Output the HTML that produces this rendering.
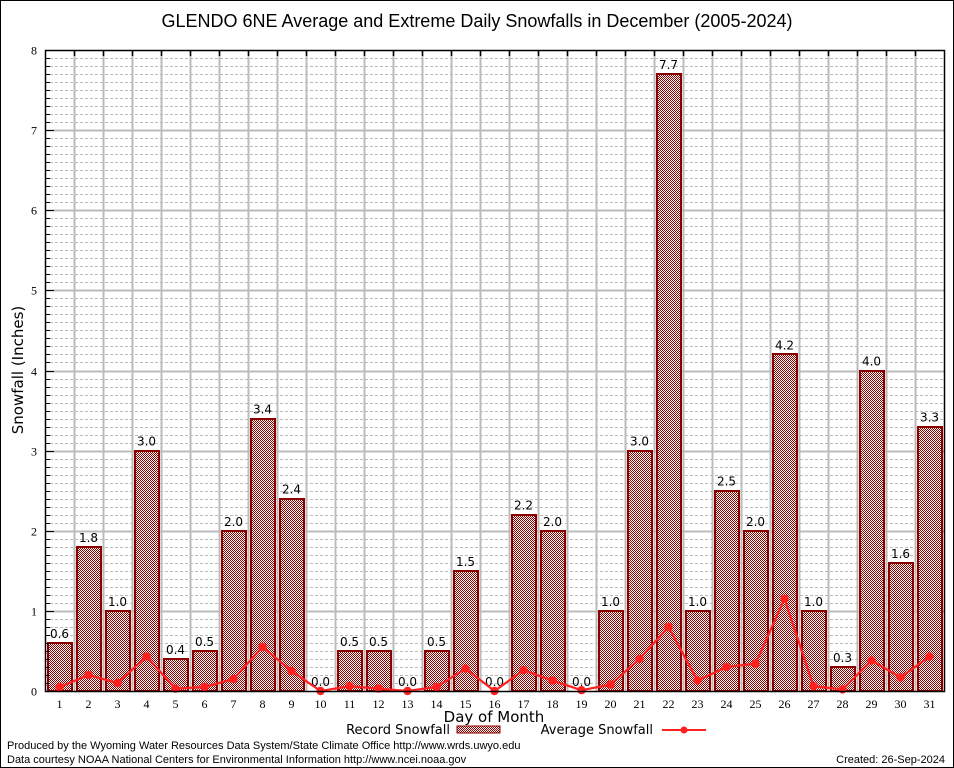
<!DOCTYPE html>
<html><head><meta charset="utf-8"><style>
body{margin:0;background:#fff}
svg{display:block}
text{font-family:"Liberation Sans",sans-serif}
.ser{font-family:"Liberation Serif","DejaVu Serif",serif}
.dj{font-family:"DejaVu Sans","Liberation Sans",sans-serif}
</style></head><body>
<svg id="chart" width="954" height="768" viewBox="0 0 954 768" xmlns="http://www.w3.org/2000/svg">
<defs>
<pattern id="chk" x="0" y="0" width="2" height="2" patternUnits="userSpaceOnUse">
<rect width="2" height="2" fill="#fff" shape-rendering="crispEdges"/><rect width="1" height="1" fill="#8c0000" shape-rendering="crispEdges"/><rect x="1" y="1" width="1" height="1" fill="#8c0000" shape-rendering="crispEdges"/>
</pattern>
</defs>
<rect x="0.5" y="0.5" width="953" height="767" fill="#fff" stroke="#000"/>
<text x="477" y="27" text-anchor="middle" font-size="18">GLENDO 6NE Average and Extreme Daily Snowfalls in December (2005-2024)</text>
<g id="grid"></g>
<g id="bars"></g>
<g id="avg"></g>
<g id="axes"></g>
<text class="dj" transform="translate(23,370) rotate(-90)" text-anchor="middle" font-size="15">Snowfall (Inches)</text>
<text class="dj" x="494" y="722" text-anchor="middle" font-size="15">Day of Month</text>
<g>
<text class="dj" x="450" y="734" text-anchor="end" font-size="13">Record Snowfall</text>
<rect x="457" y="726" width="43" height="7" fill="url(#chk)" stroke="#8c0000" shape-rendering="crispEdges"/>
<text class="dj" x="653" y="734" text-anchor="end" font-size="13">Average Snowfall</text>
<line x1="662" y1="730" x2="706" y2="730" stroke="#ff2020" stroke-width="2"/>
<circle cx="684" cy="730" r="3.5" fill="#ff2020"/>
</g>
<text x="7" y="749" font-size="11">Produced by the Wyoming Water Resources Data System/State Climate Office http://www.wrds.uwyo.edu</text>
<text x="7" y="763" font-size="11">Data courtesy NOAA National Centers for Environmental Information http://www.ncei.noaa.gov</text>
<text x="945" y="763" text-anchor="end" font-size="11">Created: 26-Sep-2024</text>
</svg>
<script>
const days = [1,2,3,4,5,6,7,8,9,10,11,12,13,14,15,16,17,18,19,20,21,22,23,24,25,26,27,28,29,30,31];
const recordSnow = [0.6,1.8,1.0,3.0,0.4,0.5,2.0,3.4,2.4,0.0,0.5,0.5,0.0,0.5,1.5,0.0,2.2,2.0,0.0,1.0,3.0,7.7,1.0,2.5,2.0,4.2,1.0,0.3,4.0,1.6,3.3];
const avgSnow = [0.05,0.2,0.1,0.43,0.03,0.05,0.15,0.55,0.25,0.0,0.06,0.03,0.0,0.05,0.28,0.0,0.26,0.13,0.01,0.08,0.4,0.8,0.13,0.3,0.34,1.15,0.06,0.02,0.38,0.17,0.43];
const yTicks = [0,1,2,3,4,5,6,7,8];

const L=45,R=944,T=50,B=691,YMAX=8;
const NS="http://www.w3.org/2000/svg";
const slot=(R-L)/days.length;
const xC=i=>L+slot*(i+0.5);
const y=v=>B-(v/YMAX)*(B-T);
function mk(tag,attrs,parent,txt){const e=document.createElementNS(NS,tag);for(const k in attrs)e.setAttribute(k,attrs[k]);if(txt!==undefined)e.textContent=txt;parent.appendChild(e);return e;}
const grid=document.getElementById('grid'),bars=document.getElementById('bars'),avg=document.getElementById('avg'),axes=document.getElementById('axes');
for(let k=1;k<YMAX*10;k++){if(k%10===0)continue;const yy=Math.round(y(k/10))+0.5;
const l=mk('line',{x1:L,x2:R,y1:yy,y2:yy,stroke:'#bbb','stroke-dasharray':'3,2','stroke-width':1},grid);


const t=mk('line',{x1:L,x2:L+5,y1:yy,y2:yy,stroke:'#000'},axes);

}
yTicks.forEach(v=>{const yy=Math.round(y(v))+0.5;
if(v>0&&v<YMAX){const g=mk('line',{x1:L,x2:R,y1:yy,y2:yy,stroke:'#bbb','stroke-width':2},grid);

}
const tk=mk('line',{x1:L,x2:L+9,y1:yy,y2:yy,stroke:'#000'},axes);


const t=mk('text',{x:L-8,y:yy+4,'text-anchor':'end','font-size':12,class:'ser'},axes,String(v));

});
for(let i=1;i<days.length;i++){const xx=Math.round(L+slot*i)+0.5;
const g=mk('line',{x1:xx,x2:xx,y1:T,y2:B,stroke:'#bbb','stroke-width':2},grid);


const tk=mk('line',{x1:xx,x2:xx,y1:T,y2:T+6,stroke:'#000','stroke-width':1.5},axes);

}
days.forEach((d,i)=>{const v=recordSnow[i],bw=24,x0=Math.round(xC(i)-bw/2);
if(v>0){const top=Math.round(y(v));
const r=mk('rect',{x:x0,y:top,width:bw,height:B-top,fill:'url(#chk)',stroke:'#8c0000','stroke-width':2,'shape-rendering':'crispEdges'},bars);

}
const t=mk('text',{x:xC(i),y:y(v)-5,'text-anchor':'middle','font-size':12,class:'dj'},bars,v.toFixed(1));


const xl=mk('text',{x:xC(i),y:B+17,'text-anchor':'middle','font-size':12,class:'ser'},axes,String(d));

});
const pts=avgSnow.map((v,i)=>xC(i)+','+y(v)).join(' ');
const pl=mk('polyline',{points:pts,fill:'none',stroke:'#ff2020','stroke-width':2.2},avg);


avgSnow.forEach((v,i)=>{const c=mk('circle',{cx:xC(i),cy:y(v),r:4.2,fill:'#ff2020'},avg);

});
const fr=mk('rect',{x:L+0.5,y:T+0.5,width:R-L,height:B-T,fill:'none',stroke:'#000','stroke-width':1.5},axes);


</script>
</body></html>
